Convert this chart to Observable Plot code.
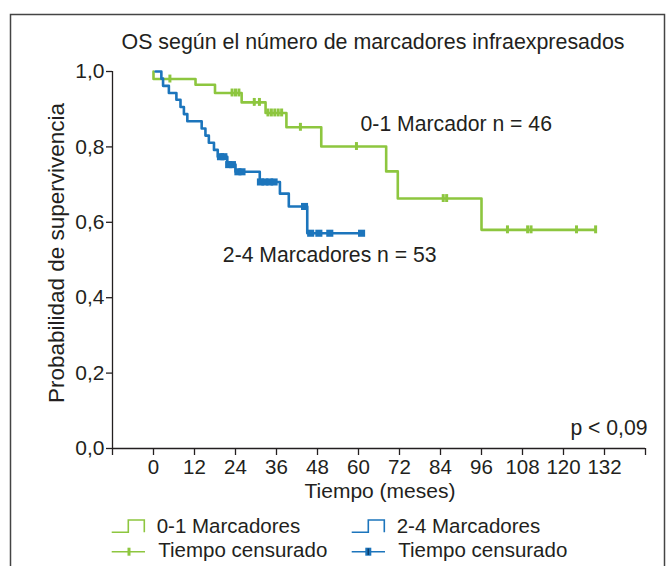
<!DOCTYPE html>
<html><head><meta charset="utf-8">
<script src="https://cdn.jsdelivr.net/npm/d3@7"></script>
<script src="https://cdn.jsdelivr.net/npm/@observablehq/plot@0.6"></script>
<style>body{margin:0;background:#fff;}</style>
</head><body><div id="chart"></div>
<script>
const title = "OS según el número de marcadores infraexpresados";
const xTitle = "Tiempo (meses)";
const yTitle = "Probabilidad de supervivencia";
const xTicks = [-12, 0, 12, 24, 36, 48, 60, 72, 84, 96, 108, 120, 132, 144];
const xTickLabels = ["", "0", "12", "24", "36", "48", "60", "72", "84", "96", "108", "120", "132", ""];
const yTicks = [0, 0.2, 0.4, 0.6, 0.8, 1.0];
const yTickLabels = ["0,0", "0,2", "0,4", "0,6", "0,8", "1,0"];

const groupNames = ["0-1 Marcadores", "2-4 Marcadores"];
const censoredLabel = "Tiempo censurado";
const annotGreen = "0-1 Marcador n = 46";
const annotBlue = "2-4 Marcadores n = 53";
const pText = "p < 0,09";

// 0-1 marcadores (green): event times and survival after each step
const greenTimes = [0, 0, 12.3, 18.0, 25.8, 32.8, 38.9, 49.1, 68.1, 71.5, 96.0, 129.4];
const greenSurv  = [1.0, 0.98, 0.965, 0.943, 0.918, 0.890, 0.852, 0.801, 0.735, 0.663, 0.580, 0.580];
const greenCensored = [4.8, 23, 24, 25, 29.5, 31, 33.5, 34.5, 35.5, 36.5, 37.5, 43.0, 59.4, 84.8, 85.8, 103.6, 109.5, 110.5, 123.8, 129.4];

// 2-4 marcadores (blue)
const blueTimes = [0.6, 2.3, 2.8, 4.5, 6.7, 7.9, 8.9, 9.9, 14.1, 15.2, 16.2, 17.7, 18.8, 21.6, 24.0, 31.1, 37.0, 39.6, 45.0, 60.9];
const blueSurv  = [1.0, 0.981, 0.962, 0.943, 0.925, 0.906, 0.887, 0.868, 0.849, 0.830, 0.811, 0.792, 0.774, 0.753, 0.734, 0.707, 0.676, 0.642, 0.571, 0.571];
const blueCensored = [19.6, 20.6, 22.0, 23.1, 24.7, 25.9, 31.3, 32.6, 34.0, 35.3, 44.2, 46.0, 48.4, 51.6, 60.9];

const GREEN = "#8dc63f", BLUE = "#1c75bc", INK = "#231f20";
const FONT = "'Liberation Sans', Arial, Helvetica, sans-serif";

function steps(times, surv) { return times.map((t, i) => ({t, s: surv[i]})); }
function survAt(times, surv, t) { let s = surv[0]; for (let i = 0; i < times.length; i++) if (times[i] <= t) s = surv[i]; return s; }
const greenSteps = steps(greenTimes, greenSurv);
const blueSteps = steps(blueTimes, blueSurv);
const greenCens = greenCensored.map(t => ({t, s: survAt(greenTimes, greenSurv, t)}));
const blueCens = blueCensored.map(t => ({t, s: survAt(blueTimes, blueSurv, t)}));

const chart = Plot.plot({
  width: 670, height: 566,
  marginLeft: 112, marginRight: 25, marginTop: 71, marginBottom: 118,
  x: {domain: [-12, 144]},
  y: {domain: [0, 1]},
  style: {fontFamily: FONT, fontSize: "20px", color: INK, background: "white", overflow: "visible"},
  marks: [
    Plot.ruleY([0], {stroke: INK, strokeWidth: 1.3}),
    Plot.ruleX([-12], {stroke: INK, strokeWidth: 1.3}),
    Plot.axisY({ticks: yTicks, tickFormat: d => yTickLabels[yTicks.indexOf(d)], tickSize: 6, tickPadding: 2, fontSize: 21, label: null, strokeWidth: 1.3}),
    Plot.axisX({ticks: xTicks, tickFormat: d => xTickLabels[xTicks.indexOf(d)], tickSize: 7, tickPadding: 4, fontSize: 20.5, label: null, strokeWidth: 1.3}),
    Plot.line(greenSteps, {x: "t", y: "s", curve: "step-after", stroke: GREEN, strokeWidth: 2.6}),
    Plot.line(blueSteps, {x: "t", y: "s", curve: "step-after", stroke: BLUE, strokeWidth: 2.6}),
    Plot.ruleX(greenCens, {x: "t", y1: d => d.s - 0.0105, y2: d => d.s + 0.0105, stroke: GREEN, strokeWidth: 3}),
    Plot.dot(blueCens, {x: "t", y: "s", symbol: "square", r: 4, fill: BLUE, stroke: "none"}),
    Plot.text([annotGreen], {x: 60.6, y: 0.861, text: d => d, textAnchor: "start", fontSize: 21.2, fill: INK}),
    Plot.text([annotBlue], {x: 20.3, y: 0.512, text: d => d, textAnchor: "start", fontSize: 21.2, fill: INK}),
    Plot.text([pText], {x: 144.6, y: 0.054, text: d => d, textAnchor: "end", fontSize: 21.2, fill: INK})
  ]
});
document.getElementById("chart").appendChild(chart);

const svg = d3.select(chart);
// frame
svg.append("rect").attr("x", 10.5).attr("y", 14.5).attr("width", 654).attr("height", 600)
  .attr("fill", "none").attr("stroke", "#444").attr("stroke-width", 1.5);
// title
svg.append("text").attr("x", 373).attr("y", 49).attr("text-anchor", "middle")
  .attr("font-size", 21.4).attr("fill", INK).text(title);
// axis titles
svg.append("text").attr("x", 380).attr("y", 498).attr("text-anchor", "middle")
  .attr("font-size", 21).attr("fill", INK).text(xTitle);
svg.append("text").attr("transform", "translate(64,253) rotate(-90)").attr("text-anchor", "middle")
  .attr("font-size", 22.5).attr("fill", INK).text(yTitle);

// legend
const leg = svg.append("g").attr("font-size", 20.5).attr("fill", INK).attr("text-anchor", "start");
function stepGlyph(x0, color) {
  leg.append("path").attr("d", `M${x0},532.3H${x0+16.6}V520H${x0+32.6}V532.3`)
    .attr("fill", "none").attr("stroke", color).attr("stroke-width", 1.6);
}
stepGlyph(111.7, GREEN);
stepGlyph(351.7, BLUE);
leg.append("text").attr("x", 156.7).attr("y", 533).text(groupNames[0]);
leg.append("text").attr("x", 396.7).attr("y", 533).text(groupNames[1]);
leg.append("line").attr("x1", 111.7).attr("x2", 145).attr("y1", 551.7).attr("y2", 551.7).attr("stroke", GREEN).attr("stroke-width", 1.6);
leg.append("rect").attr("x", 127.5).attr("y", 547.7).attr("width", 3).attr("height", 8).attr("fill", GREEN);
leg.append("line").attr("x1", 351.7).attr("x2", 385).attr("y1", 551.7).attr("y2", 551.7).attr("stroke", BLUE).attr("stroke-width", 1.6);
leg.append("rect").attr("x", 365.3).attr("y", 547.7).attr("width", 6).attr("height", 8).attr("fill", BLUE);
leg.append("rect").attr("x", 367.5).attr("y", 548.5).attr("width", 1.6).attr("height", 6.4).attr("fill", "#0b3f6e");
leg.append("text").attr("x", 158.3).attr("y", 557).text(censoredLabel);
leg.append("text").attr("x", 398.3).attr("y", 557).text(censoredLabel);
</script>
</body></html>
